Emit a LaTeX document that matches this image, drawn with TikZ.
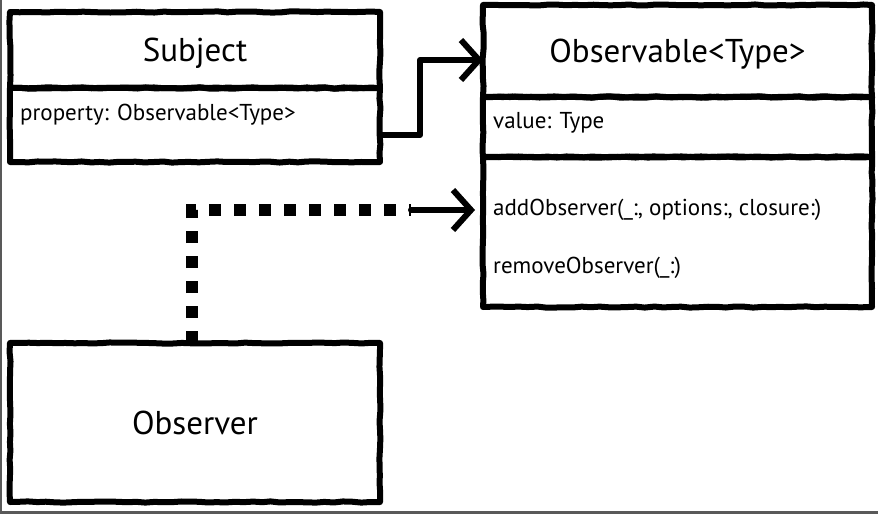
\documentclass[tikz,border=0pt]{standalone}
\usepackage{fontspec}
\setmainfont{PT Sans}
\usepackage{tikz}
\usetikzlibrary{arrows.meta, positioning, decorations.pathmorphing}
\tikzstyle{box} = [rectangle, draw=black, line width=6pt, line join=round, inner sep=0pt, outer sep=0pt, decorate, decoration={random steps, segment length=9pt, amplitude=0.6pt}]
\tikzstyle{title} = [font=\fontsize{33}{38}\selectfont, text depth=0pt]
\tikzstyle{member} = [anchor=west, inner sep=0pt, font=\fontsize{23}{27}\selectfont]
\tikzstyle{arrow} = [line width=6pt, line join=round, line cap=round, -{Straight Barb[length=18pt, width=40pt, line width=6pt]}]
\tikzstyle{depends} = [line width=12pt, dash pattern=on 12pt off 13pt]

\begin{document}
\begin{tikzpicture}[x=1pt, y=-1pt, node distance=0pt]
        \pgfmathsetseed{7}
        \useasboundingbox (0,0) rectangle (878,514);
        \draw [gray!70!black, line width=2.5pt] (1,0) -- (1,512.5) -- (878,512.5);

        % subject
        \node (subject) [box, title, minimum width=370pt, minimum height=76pt, anchor=north west] at (10,12) {Subject};
        \node (property) [box, minimum width=370pt, minimum height=74pt, below=of subject] {};
        \node (proptext) [member] at ([xshift=10pt, yshift=10pt]property.west) {property: Observable<Type>};

        % observable
        \node (observable) [box, title, minimum width=389pt, minimum height=92pt, anchor=north west] at (483,5) {Observable<Type>};
        \node (value) [box, minimum width=389pt, minimum height=60pt, below=of observable] {};
        \node (methods) [box, minimum width=389pt, minimum height=150pt, below=of value] {};
        \node (valuetext) [member] at ([xshift=10pt, yshift=4pt]value.west) {value: Type};
        \node (addtext) [member] at ([xshift=10pt, yshift=22pt]methods.west) {addObserver(\_:, options:, closure:)};
        \node (removetext) [member] at ([xshift=10pt, yshift=-36pt]methods.west) {removeObserver(\_:)};

        % observer
        \node (observer) [box, title, minimum width=370pt, minimum height=159pt, anchor=north west] at (10,343) {Observer};

        \coordinate (bend) at ([xshift=-82pt]addtext.west);
        \draw [arrow] ([yshift=-10pt]property.east) -- ++(40,0) |- ([yshift=-9pt]observable.west);
        \draw [depends] ([xshift=-3pt]observer.north) |- (bend);
        \draw [arrow, shorten >=8pt] (bend) -- (methods.west |- addtext.west);
    \end{tikzpicture}
\end{document}
